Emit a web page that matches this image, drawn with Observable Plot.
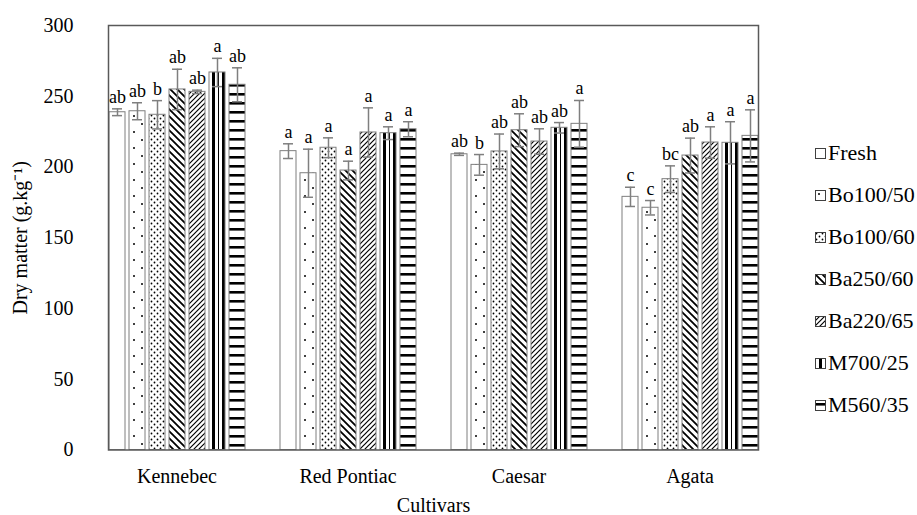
<!DOCTYPE html>
<html>
<head>
<meta charset="utf-8">
<script src="https://cdn.jsdelivr.net/npm/d3@7"></script>
<script src="https://cdn.jsdelivr.net/npm/@observablehq/plot@0.6"></script>
<style>
  body { margin: 0; background: #fff; }
  #wrap { position: relative; width: 917px; height: 515px; font-family: "Liberation Serif", "Times New Roman", serif; }
  #chart { position: absolute; left: 0; top: 0; }
  #chart svg, #chart svg text { font-family: "Liberation Serif", "Times New Roman", serif; }
  #legend { position: absolute; left: 815px; top: 132px; font-size: 22px; color: #000; }
  .item { height: 42px; display: flex; align-items: center; }
  .item svg { margin-right: 2px; }
</style>
</head>
<body>
<svg width="0" height="0" style="position:absolute">
  <defs>
    <pattern id="p1" patternUnits="userSpaceOnUse" width="16" height="16">
      <rect width="16" height="16" fill="#fff"/>
      <circle cx="4" cy="4" r="1" fill="#000"/>
      <circle cx="12" cy="12" r="1" fill="#000"/>
    </pattern>
    <pattern id="p2" patternUnits="userSpaceOnUse" width="6" height="6">
      <rect width="6" height="6" fill="#fff"/>
      <circle cx="1.5" cy="1.5" r="0.9" fill="#000"/>
      <circle cx="4.5" cy="4.5" r="0.9" fill="#000"/>
    </pattern>
    <pattern id="p3" patternUnits="userSpaceOnUse" width="7" height="7">
      <rect width="7" height="7" fill="#fff"/>
      <path d="M-1,-1 L8,8 M-1,6 L1,8 M6,-1 L8,1" stroke="#000" stroke-width="1.8"/>
    </pattern>
    <pattern id="p4" patternUnits="userSpaceOnUse" width="5" height="5">
      <rect width="5" height="5" fill="#fff"/>
      <path d="M-1,6 L6,-1 M-1,1 L1,-1 M4,6 L6,4" stroke="#000" stroke-width="1.2"/>
    </pattern>
    <pattern id="p5" patternUnits="userSpaceOnUse" width="10" height="8">
      <rect width="10" height="8" fill="#fff"/>
      <rect x="4" width="3" height="8" fill="#000"/>
      <rect x="0" width="1" height="8" fill="#000"/>
    </pattern>
    <pattern id="p6" patternUnits="userSpaceOnUse" width="9" height="9">
      <rect width="9" height="9" fill="#fff"/>
      <rect y="3" width="9" height="2.6" fill="#000"/>
    </pattern>
  </defs>
</svg>
<div id="wrap">
  <div id="chart"></div>
  <div id="legend"></div>
</div>
<script>
const cultivars = ["Kennebec", "Red Pontiac", "Caesar", "Agata"];
const treatments = ["Fresh", "Bo100/50", "Bo100/60", "Ba250/60", "Ba220/65", "M700/25", "M560/35"];

const kennebecMean = [238.7, 239.4, 236.9, 254.8, 253.1, 266.8, 258.1];
const kennebecErr  = [2.4, 6, 10, 14.3, 1.2, 10, 12];
const kennebecLetters = ["ab", "ab", "b", "ab", "ab", "a", "ab"];

const redPontiacMean = [211.2, 195.6, 213.6, 197.5, 224.4, 223.9, 226.7];
const redPontiacErr  = [5.2, 17, 7, 6.6, 17.4, 4.5, 5.3];
const redPontiacLetters = ["a", "a", "a", "a", "a", "a", "a"];

const caesarMean = [209, 201.5, 211, 226, 218, 227.7, 230.5];
const caesarErr  = [0.8, 7.3, 12.3, 11.6, 9, 3.7, 16.5];
const caesarLetters = ["ab", "b", "ab", "ab", "ab", "ab", "a"];

const agataMean = [178.9, 171.2, 191.4, 208.1, 217.3, 217.1, 222];
const agataErr  = [6.8, 5.1, 9.4, 12.3, 11.1, 14.9, 18.4];
const agataLetters = ["c", "c", "bc", "ab", "a", "a", "a"];

const yTicks = [0, 50, 100, 150, 200, 250, 300];

const means = [kennebecMean, redPontiacMean, caesarMean, agataMean];
const errs = [kennebecErr, redPontiacErr, caesarErr, agataErr];
const letters = [kennebecLetters, redPontiacLetters, caesarLetters, agataLetters];

const patternFills = ["#fff", "url(#p1)", "url(#p2)", "url(#p3)", "url(#p4)", "url(#p5)", "url(#p6)"];

const data = [];
cultivars.forEach((c, i) => treatments.forEach((t, j) => {
  data.push({cultivar: c, treatment: t, mean: means[i][j], err: errs[i][j], letter: letters[i][j]});
}));

const gray = "#7f7f7f";
const serif = "'Liberation Serif', 'Times New Roman', serif";

const plot = Plot.plot({
  width: 917,
  height: 515,
  marginTop: 25,
  marginBottom: 65.5,
  marginLeft: 90,
  marginRight: 142,
  style: {fontFamily: serif, fontSize: "20px", color: "#000", background: "transparent"},
  fx: {domain: cultivars, paddingInner: 0.2, paddingOuter: 0.1},
  x: {domain: treatments, paddingInner: 0.2, paddingOuter: 0, axis: null},
  y: {domain: [0, 300]},
  color: {type: "ordinal", domain: treatments, range: patternFills},
  marks: [
    Plot.axisY({ticks: yTicks, tickSize: 0, tickPadding: 0, dx: -35, fontSize: 20, fontFamily: serif,
      label: "Dry matter (g.kg⁻¹)", labelAnchor: "center", labelArrow: "none", labelOffset: 96}),
    Plot.axisFx({anchor: "bottom", tickSize: 0, tickPadding: 18.5, fontSize: 20, fontFamily: serif,
      label: "Cultivars", labelAnchor: "center", labelOffset: 62}),
    Plot.barY(data, {fx: "cultivar", x: "treatment", y: "mean", fill: "treatment", stroke: gray, strokeWidth: 1}),
    Plot.ruleX(data, {fx: "cultivar", x: "treatment", y1: d => d.mean - d.err, y2: d => d.mean + d.err, stroke: gray, strokeWidth: 1.5}),
    Plot.tickY(data, {fx: "cultivar", x: "treatment", y: d => d.mean - d.err, stroke: gray, strokeWidth: 1.5, inset: 3}),
    Plot.tickY(data, {fx: "cultivar", x: "treatment", y: d => d.mean + d.err, stroke: gray, strokeWidth: 1.5, inset: 3}),
    Plot.text(data, {fx: "cultivar", x: "treatment", y: d => d.mean + d.err, text: "letter", dy: -6, lineAnchor: "bottom", fontSize: 18, fontFamily: serif, fill: "#000"}),
    Plot.frame({facet: "super", stroke: "#595959", strokeWidth: 1.5})
  ]
});
document.getElementById("chart").appendChild(plot);

const legend = document.getElementById("legend");
treatments.forEach((t, j) => {
  const item = document.createElement("div");
  item.className = "item";
  item.innerHTML = `<svg width="11" height="11"><rect x="0.5" y="0.5" width="10" height="10" fill="${patternFills[j]}" stroke="#404040" stroke-width="1"/></svg><span>${t}</span>`;
  legend.appendChild(item);
});
</script>
</body>
</html>
